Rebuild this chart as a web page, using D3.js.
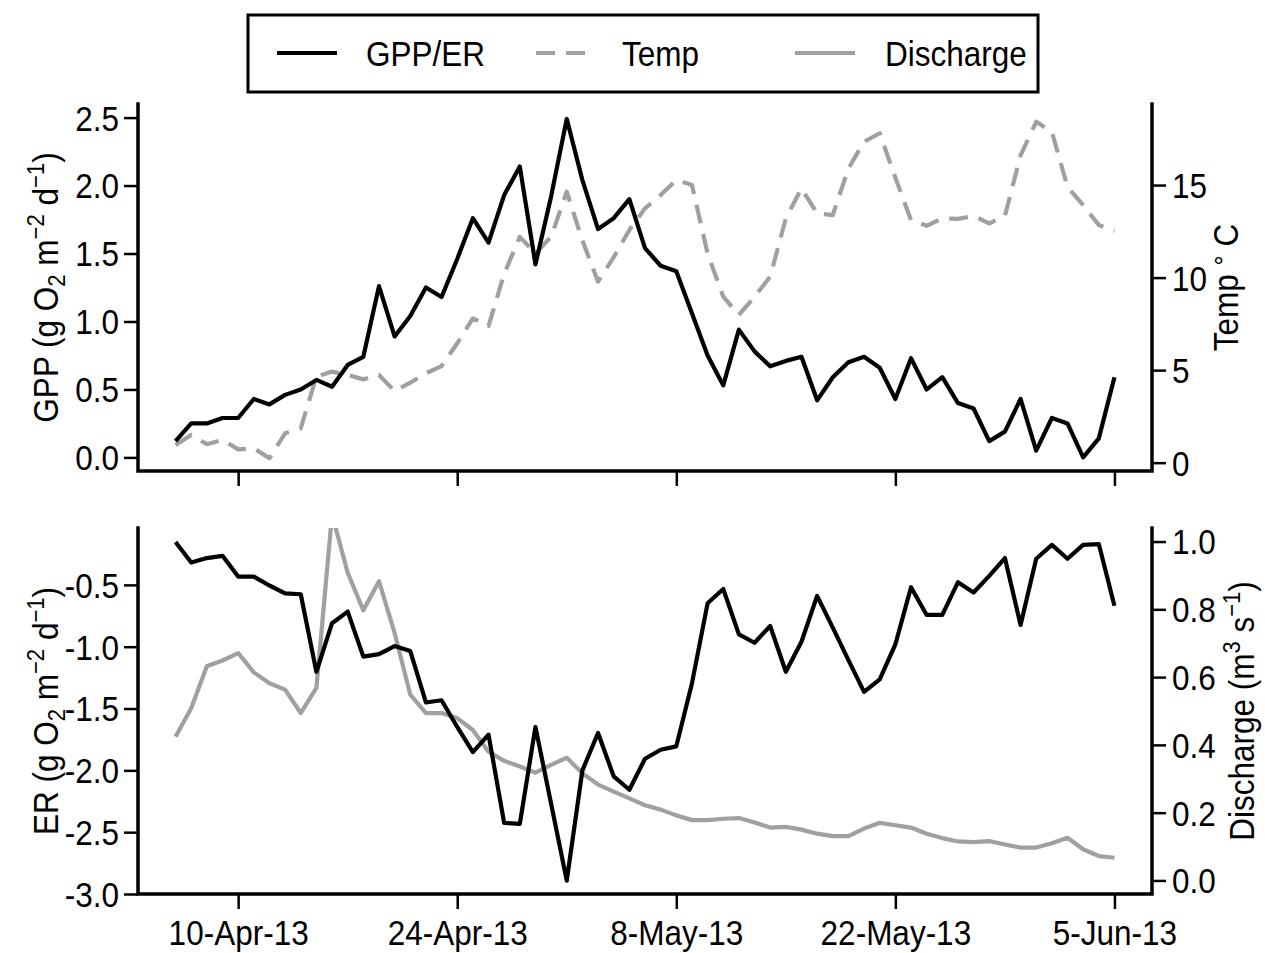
<!DOCTYPE html>
<html>
<head>
<meta charset="utf-8">
<script src="https://cdn.jsdelivr.net/npm/d3@7"></script>
<style>
  body { margin: 0; background: #fff; }
  svg text { font-family: "Liberation Sans", Arial, Helvetica, sans-serif; fill: #000; }
</style>
</head>
<body>
<svg id="chart" width="1265" height="953"></svg>
<script>
// Daily observations, 6 Apr 2013 - 5 Jun 2013
const dates = [
  "2013-04-06","2013-04-07","2013-04-08","2013-04-09","2013-04-10","2013-04-11","2013-04-12","2013-04-13",
  "2013-04-14","2013-04-15","2013-04-16","2013-04-17","2013-04-18","2013-04-19","2013-04-20","2013-04-21",
  "2013-04-22","2013-04-23","2013-04-24","2013-04-25","2013-04-26","2013-04-27","2013-04-28","2013-04-29",
  "2013-04-30","2013-05-01","2013-05-02","2013-05-03","2013-05-04","2013-05-05","2013-05-06","2013-05-07",
  "2013-05-08","2013-05-09","2013-05-10","2013-05-11","2013-05-12","2013-05-13","2013-05-14","2013-05-15",
  "2013-05-16","2013-05-17","2013-05-18","2013-05-19","2013-05-20","2013-05-21","2013-05-22","2013-05-23",
  "2013-05-24","2013-05-25","2013-05-26","2013-05-27","2013-05-28","2013-05-29","2013-05-30","2013-05-31",
  "2013-06-01","2013-06-02","2013-06-03","2013-06-04","2013-06-05"
];

// Gross primary production, g O2 m-2 d-1
const gpp = [0.12,0.25,0.25,0.29,0.29,0.43,0.39,0.46,0.50,0.57,0.52,0.68,0.74,1.26,0.89,1.04,1.25,1.18,1.46,1.76,
  1.58,1.93,2.14,1.42,1.92,2.49,2.04,1.68,1.76,1.90,1.54,1.41,1.37,1.06,0.75,0.53,0.94,0.78,0.67,0.71,
  0.74,0.42,0.59,0.70,0.74,0.66,0.43,0.73,0.50,0.59,0.40,0.36,0.12,0.19,0.43,0.05,0.29,0.25,0.00,0.14,0.59];

// Mean daily water temperature, degrees C
const temp = [0.96,1.50,1.00,1.23,0.72,0.78,0.24,1.59,1.86,4.65,4.92,4.74,4.50,4.74,3.87,4.32,4.83,5.22,6.45,7.80,
  7.38,10.2,12.2,11.3,12.2,14.64,12.0,9.78,11.1,12.57,13.74,14.46,15.27,15.0,11.3,8.97,7.98,8.97,10.05,13.2,
  14.82,13.47,13.38,15.9,17.34,17.8,15.4,13.1,12.8,13.2,13.17,13.33,12.93,13.33,16.6,18.42,17.88,14.9,13.92,12.84,12.53];

// Ecosystem respiration, g O2 m-2 d-1
const er = [-0.154,-0.319,-0.283,-0.265,-0.433,-0.433,-0.505,-0.568,-0.576,-1.203,-0.81,-0.716,-1.08,-1.06,-0.995,-1.035,
  -1.451,-1.433,-1.649,-1.852,-1.711,-2.425,-2.433,-1.649,-2.27,-2.892,-2.0,-1.698,-2.049,-2.157,-1.906,-1.833,
  -1.806,-1.297,-0.649,-0.533,-0.9,-0.968,-0.833,-1.203,-0.96,-0.589,-0.846,-1.108,-1.365,-1.265,-0.981,-0.519,
  -0.743,-0.743,-0.478,-0.562,-0.427,-0.283,-0.824,-0.289,-0.176,-0.289,-0.176,-0.170,-0.668];

// Stream discharge, m3 s-1
const discharge = [0.424,0.508,0.632,0.649,0.671,0.614,0.582,0.563,0.494,0.568,1.08,0.908,0.797,0.883,0.73,0.548,
  0.494,0.494,0.479,0.444,0.38,0.353,0.336,0.318,0.341,0.362,0.316,0.283,0.262,0.242,0.222,0.209,0.192,0.178,
  0.178,0.182,0.184,0.171,0.156,0.158,0.150,0.138,0.131,0.131,0.153,0.17,0.163,0.156,0.138,0.125,0.115,0.113,
  0.116,0.106,0.097,0.097,0.110,0.126,0.092,0.072,0.067];

// Axis ticks
const dateTicks = ["2013-04-10","2013-04-24","2013-05-08","2013-05-22","2013-06-05"];
const dateTickLabels = ["10-Apr-13","24-Apr-13","8-May-13","22-May-13","5-Jun-13"];
const gppTicks = [0, 0.5, 1.0, 1.5, 2.0, 2.5];
const tempTicks = [0, 5, 10, 15];
const erTicks = [-3.0, -2.5, -2.0, -1.5, -1.0, -0.5];
const dischargeTicks = [0, 0.2, 0.4, 0.6, 0.8, 1.0];

// Axis limits
const gppLim = [-0.1, 2.6];
const tempLim = [-0.45, 19.38];
const erLim = [-3.0, -0.04];
const dischargeLim = [-0.04, 1.04];

const legendItems = [
  { label: "GPP/ER", color: "#000", dash: null },
  { label: "Temp", color: "#a0a0a0", dash: "19,11" },
  { label: "Discharge", color: "#a0a0a0", dash: null }
];

// ---------- layout ----------
const FS = 34.5;          // font size (glyphs are narrowed afterwards)
const NARROW = 0.913;     // horizontal glyph compression
const LW = 4.2;           // data line width
const left = 138, right = 1152;
const panels = {
  top: { y0: 104, y1: 471 },
  bottom: { y0: 528, y1: 894 }
};
const parse = d3.utcParse("%Y-%m-%d");
const days = dates.map(parse);
const tickDays = dateTicks.map(parse);

const t0 = days[0].getTime(), t1 = days[days.length - 1].getTime();
const pad = 0.04 * (t1 - t0);
const x = d3.scaleUtc().domain([new Date(t0 - pad), new Date(t1 + pad)]).range([left, right]);

const yGpp = d3.scaleLinear().domain(gppLim).range([panels.top.y1, panels.top.y0]);
const yTemp = d3.scaleLinear().domain(tempLim).range([panels.top.y1, panels.top.y0]);
const yEr = d3.scaleLinear().domain(erLim).range([panels.bottom.y1, panels.bottom.y0]);
const yDis = d3.scaleLinear().domain(dischargeLim).range([panels.bottom.y1, panels.bottom.y0]);

const svg = d3.select("#chart");
const defs = svg.append("defs");
Object.entries(panels).forEach(([k, p]) => {
  defs.append("clipPath").attr("id", "clip-" + k)
    .append("rect").attr("x", left).attr("y", p.y0).attr("width", right - left).attr("height", p.y1 - p.y0);
});

function series(values, yScale, panel, color, dash) {
  const line = d3.line().x((d, i) => x(days[i])).y(d => yScale(d));
  svg.append("path")
    .attr("clip-path", "url(#clip-" + panel + ")")
    .attr("d", line(values))
    .attr("fill", "none")
    .attr("stroke", color)
    .attr("stroke-width", LW)
    .attr("stroke-linejoin", "round")
    .attr("stroke-linecap", "butt")
    .attr("stroke-dasharray", dash);
}

// lines (secondary series drawn first, primary on top)
series(temp, yTemp, "top", "#a0a0a0", "19,11");
series(gpp, yGpp, "top", "#000", null);
series(discharge, yDis, "bottom", "#a0a0a0", null);
series(er, yEr, "bottom", "#000", null);

// ---------- axes ----------
function styleAxis(g) {
  g.select(".domain").remove();
  g.selectAll(".tick line").attr("stroke", "#000").attr("stroke-width", 2.5);
  g.selectAll(".tick text").attr("font-size", FS).attr("fill", "#000");
}

function frame(p) {
  svg.append("path")
    .attr("d", `M${left},${p.y0}V${p.y1}H${right}V${p.y0}`)
    .attr("fill", "none").attr("stroke", "#000").attr("stroke-width", 3.5)
    .attr("stroke-linejoin", "miter").attr("stroke-linecap", "square");
}

function panelAxes(p, yL, yR, ticksL, ticksR, fmtL, fmtR, showDates) {
  svg.append("g").attr("transform", `translate(${left},0)`)
    .call(d3.axisLeft(yL).tickValues(ticksL).tickFormat(fmtL).tickSize(14).tickPadding(5))
    .call(styleAxis)
    .selectAll(".tick text").attr("dy", "0.36em");
  svg.append("g").attr("transform", `translate(${right},0)`)
    .call(d3.axisRight(yR).tickValues(ticksR).tickFormat(fmtR).tickSize(14).tickPadding(6))
    .call(styleAxis)
    .selectAll(".tick text").attr("dy", "0.36em");
  const gx = svg.append("g").attr("transform", `translate(0,${p.y1})`)
    .call(d3.axisBottom(x).tickValues(tickDays)
      .tickFormat((d, i) => showDates ? dateTickLabels[i] : "").tickSize(15).tickPadding(12))
    .call(styleAxis);
  gx.selectAll(".tick text").attr("dy", "0.71em");
  frame(p);
}

panelAxes(panels.top, yGpp, yTemp, gppTicks, tempTicks, d => d.toFixed(1), d => String(d), false);
panelAxes(panels.bottom, yEr, yDis, erTicks, dischargeTicks, d => d.toFixed(1), d => d.toFixed(1), true);

// ---------- axis titles ----------
function rotatedTitle(cx, cy, parts) {
  const t = svg.append("text")
    .attr("transform", `translate(${cx},${cy}) rotate(-90)`)
    .attr("text-anchor", "middle")
    .attr("font-size", FS);
  parts.forEach(pt => {
    const s = t.append("tspan").text(pt.t);
    if (pt.sup) s.attr("font-size", FS * 0.7).attr("dy", -FS * 0.42);
    if (pt.sub) s.attr("font-size", FS * 0.7).attr("dy", FS * 0.2);
    if (pt.deg) s.attr("font-size", FS * 0.8).attr("dy", -FS * 0.12);
    if (pt.back) s.attr("dy", pt.back);
  });
  return t;
}

const yc = p => (p.y0 + p.y1) / 2;

rotatedTitle(58, yc(panels.top), [
  { t: "GPP (g O" }, { t: "2", sub: true }, { t: " m", back: -FS * 0.2 },
  { t: "\u22122", sup: true }, { t: " d", back: FS * 0.42 }, { t: "\u22121", sup: true }, { t: ")", back: FS * 0.42 }
]);
rotatedTitle(58, yc(panels.bottom), [
  { t: "ER (g O" }, { t: "2", sub: true }, { t: " m", back: -FS * 0.2 },
  { t: "\u22122", sup: true }, { t: " d", back: FS * 0.42 }, { t: "\u22121", sup: true }, { t: ")", back: FS * 0.42 }
]);
rotatedTitle(1238, yc(panels.top), [
  { t: "Temp " }, { t: "\u00B0", deg: true }, { t: " C", back: FS * 0.12 }
]);
rotatedTitle(1254, yc(panels.bottom), [
  { t: "Discharge (m" }, { t: "3", sup: true }, { t: " s", back: FS * 0.42 },
  { t: "\u22121", sup: true }, { t: ")", back: FS * 0.42 }
]);

// ---------- legend ----------
const legend = svg.append("g");
legend.append("rect").attr("x", 248).attr("y", 15).attr("width", 790).attr("height", 77)
  .attr("fill", "#fff").attr("stroke", "#000").attr("stroke-width", 3);
const legendX = [277, 536, 795];
const legendTextX = [366, 622, 885];
legendItems.forEach((it, i) => {
  legend.append("line")
    .attr("x1", legendX[i]).attr("x2", legendX[i] + (it.dash ? 49 : 60))
    .attr("y1", 53).attr("y2", 53)
    .attr("stroke", it.color).attr("stroke-width", LW)
    .attr("stroke-dasharray", it.dash);
  legend.append("text").attr("x", legendTextX[i]).attr("y", 66)
    .attr("font-size", FS).text(it.label);
});

// narrow every label's glyphs along its baseline
svg.selectAll("text").each(function () {
  const w = this.getComputedTextLength();
  if (w > 0) {
    this.setAttribute("textLength", (w * NARROW).toFixed(2));
    this.setAttribute("lengthAdjust", "spacingAndGlyphs");
  }
});
</script>
</body>
</html>
